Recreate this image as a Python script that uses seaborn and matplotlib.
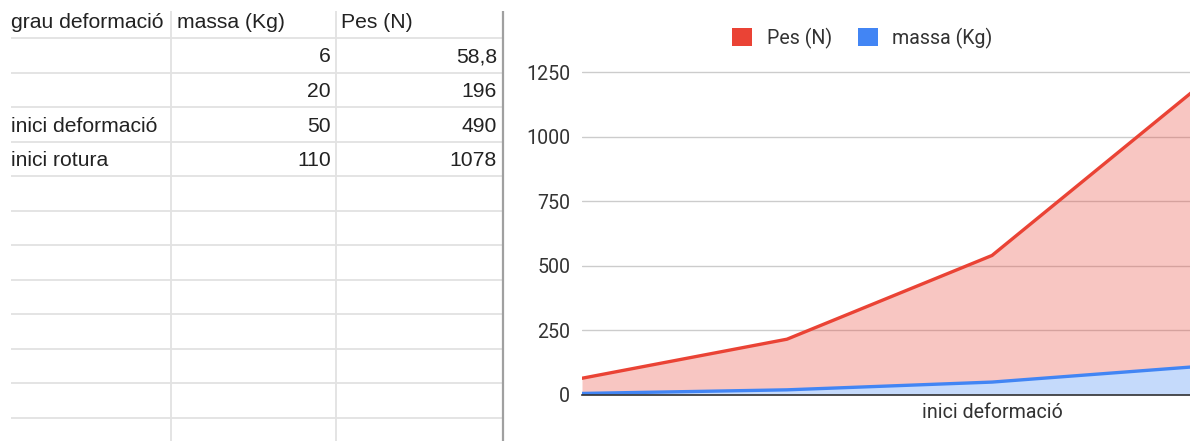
import numpy as np
import pandas as pd
import matplotlib
matplotlib.use("Agg")
import matplotlib.pyplot as plt
from matplotlib.patches import Patch
import seaborn as sns

# ---- data ----
header = ["grau deformació", "massa (Kg)", "Pes (N)"]
categories = ["", "", "inici deformació", "inici rotura"]
massa = [6, 20, 50, 110]
pes = [58.8, 196, 490, 1078]
y_ticks = [0, 250, 500, 750, 1000, 1250]

RED = "#ea4335"
BLUE = "#4285f4"

sns.set_theme(style="white")
plt.rcParams["font.family"] = ["Roboto", "DejaVu Sans"]

W, H = 1190, 441
fig = plt.figure(figsize=(W / 100, H / 100), dpi=100)
fig.patch.set_facecolor("white")

# ---------------- spreadsheet table (pixel coordinates) ----------------
tax = fig.add_axes([0, 0, 1, 1], zorder=0)
tax.set_xlim(0, W)
tax.set_ylim(H, 0)
tax.axis("off")

row_h = 34.5
first_line = 38.0
grid_col = "#e2e2e2"
n_lines = 12
for i in range(n_lines):
    y = first_line + i * row_h
    tax.plot([11, 502], [y, y], color=grid_col, lw=1.3, solid_capstyle="butt")
for x in (171, 336):
    tax.plot([x, x], [11, H], color=grid_col, lw=1.3, solid_capstyle="butt")
tax.plot([503, 503], [11, H], color="#a0a0a0", lw=1.6, solid_capstyle="butt")

tfont = dict(family=["Liberation Sans", "DejaVu Sans"], fontsize=15.2, color="#222222")
base0 = 28.0
tax.text(11, base0, header[0], ha="left", va="baseline", **tfont)
tax.text(177, base0, header[1], ha="left", va="baseline", **tfont)
tax.text(341, base0, header[2], ha="left", va="baseline", **tfont)


def fmt(v):
    s = f"{v:g}"
    return s.replace(".", ",")


for i, (c, m, p) in enumerate(zip(categories, massa, pes)):
    yb = base0 + (i + 1) * row_h
    if c:
        tax.text(11, yb, c, ha="left", va="baseline", **tfont)
    tax.text(331, yb, fmt(m), ha="right", va="baseline", **tfont)
    tax.text(497, yb, fmt(p), ha="right", va="baseline", **tfont)

# ---------------- stacked area chart ----------------
x_left, x_right = 582, 1197
y_zero, y_top = 395, 59.1
ax = fig.add_axes([x_left / W, (H - y_zero) / H, (x_right - x_left) / W, (y_zero - y_top) / H], zorder=1)
ax.patch.set_alpha(0)

idx = np.arange(len(categories))
df = pd.DataFrame({"idx": idx, "massa": massa, "pes": pes})
df["stack1"] = df["massa"]
df["stack2"] = df["massa"] + df["pes"]

ax.fill_between(df["idx"], 0, df["stack1"], color=BLUE, alpha=0.3, lw=0, zorder=2)
ax.fill_between(df["idx"], df["stack1"], df["stack2"], color=RED, alpha=0.3, lw=0, zorder=2)
sns.lineplot(data=df, x="idx", y="stack1", color=BLUE, lw=2.4, ax=ax, zorder=4)
sns.lineplot(data=df, x="idx", y="stack2", color=RED, lw=2.4, ax=ax, zorder=4)

ax.set_xlim(0, len(categories) - 1)
ax.set_ylim(0, 1300)
ax.set_yticks(y_ticks)
ax.set_yticklabels([str(v) for v in y_ticks])
tick_pos = list(range(0, len(categories), 2))
ax.set_xticks(tick_pos)
ax.set_xticklabels([categories[i] for i in tick_pos])
ax.set_xlabel("")
ax.set_ylabel("")
ax.yaxis.grid(True, color="#cccccc", lw=1.0, zorder=1)
ax.xaxis.grid(False)
ax.set_axisbelow(True)
for s in ("top", "right", "left"):
    ax.spines[s].set_visible(False)
ax.spines["bottom"].set_color("#333333")
ax.spines["bottom"].set_linewidth(1.2)
ax.spines["bottom"].set_zorder(5)
ax.tick_params(axis="y", length=0, pad=8.5, labelsize=14.1, labelcolor="#333333")
ax.tick_params(axis="x", length=0, pad=5.5, labelsize=14.1, labelcolor="#333333")

handles = [Patch(facecolor=RED, edgecolor="none"), Patch(facecolor=BLUE, edgecolor="none")]
fig.legend(handles, ["Pes (N)", "massa (Kg)"], loc="center",
           bbox_to_anchor=(862.5 / W, 1 - 38 / H), ncol=2, frameon=False,
           fontsize=14.1, labelcolor="#333333", handlelength=1.0, handleheight=1.0,
           handletextpad=0.75, columnspacing=1.35, borderaxespad=0, borderpad=0)

fig.savefig("out.png", dpi=100, facecolor="white")
